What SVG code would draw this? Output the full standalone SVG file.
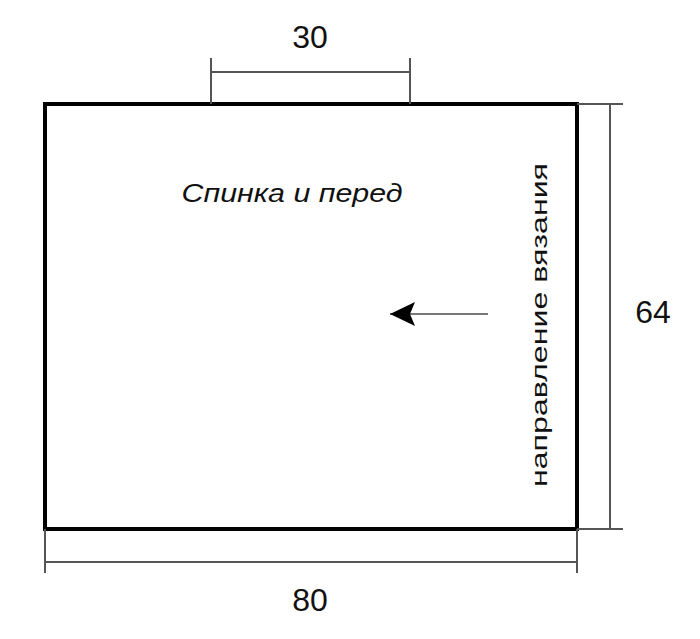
<svg xmlns="http://www.w3.org/2000/svg" width="700" height="639" viewBox="0 0 700 639">
<style>
.dim{stroke:#555;stroke-width:2;fill:none}
.num{font-family:"Liberation Sans",Arial,sans-serif;font-size:32px;fill:#111;text-anchor:middle}
.lbl{font-family:"Liberation Sans",Arial,sans-serif;fill:#111}
</style>
<defs>
<marker id="ah" viewBox="0 0 26 26" refX="25" refY="13" markerWidth="26" markerHeight="26" markerUnits="userSpaceOnUse" orient="auto">
<path d="M25,13 L0,1 L5,13 L0,25 Z" fill="#000"/>
</marker>
</defs>
<rect width="700" height="639" fill="#fff"/>
<g id="piece">
<rect x="45" y="104" width="532" height="425" fill="#fff" stroke="#000" stroke-width="4"/>
<text class="lbl" x="292" y="202" font-size="25" font-style="italic" text-anchor="middle" textLength="221" lengthAdjust="spacingAndGlyphs">Спинка и перед</text>
<text class="lbl" transform="translate(547,325) rotate(-90)" font-size="22" text-anchor="middle" textLength="324" lengthAdjust="spacingAndGlyphs">направление вязания</text>
</g>
<g id="connectors">
<line x1="488" y1="314" x2="390" y2="314" stroke="#777" stroke-width="2" marker-end="url(#ah)"/>
<path class="dim" d="M211,58 V104 M410,58 V104 M211,72 H410"/>
<path class="dim" d="M45,529 V573 M577,529 V573 M45,562 H577"/>
<path class="dim" d="M577,104 H623 M577,529 H623 M610,104 V529"/>
</g>
<g id="labels">
<text class="num" x="310" y="48">30</text>
<text class="num" x="310" y="611">80</text>
<text class="num" x="653" y="323">64</text>
</g>
</svg>
